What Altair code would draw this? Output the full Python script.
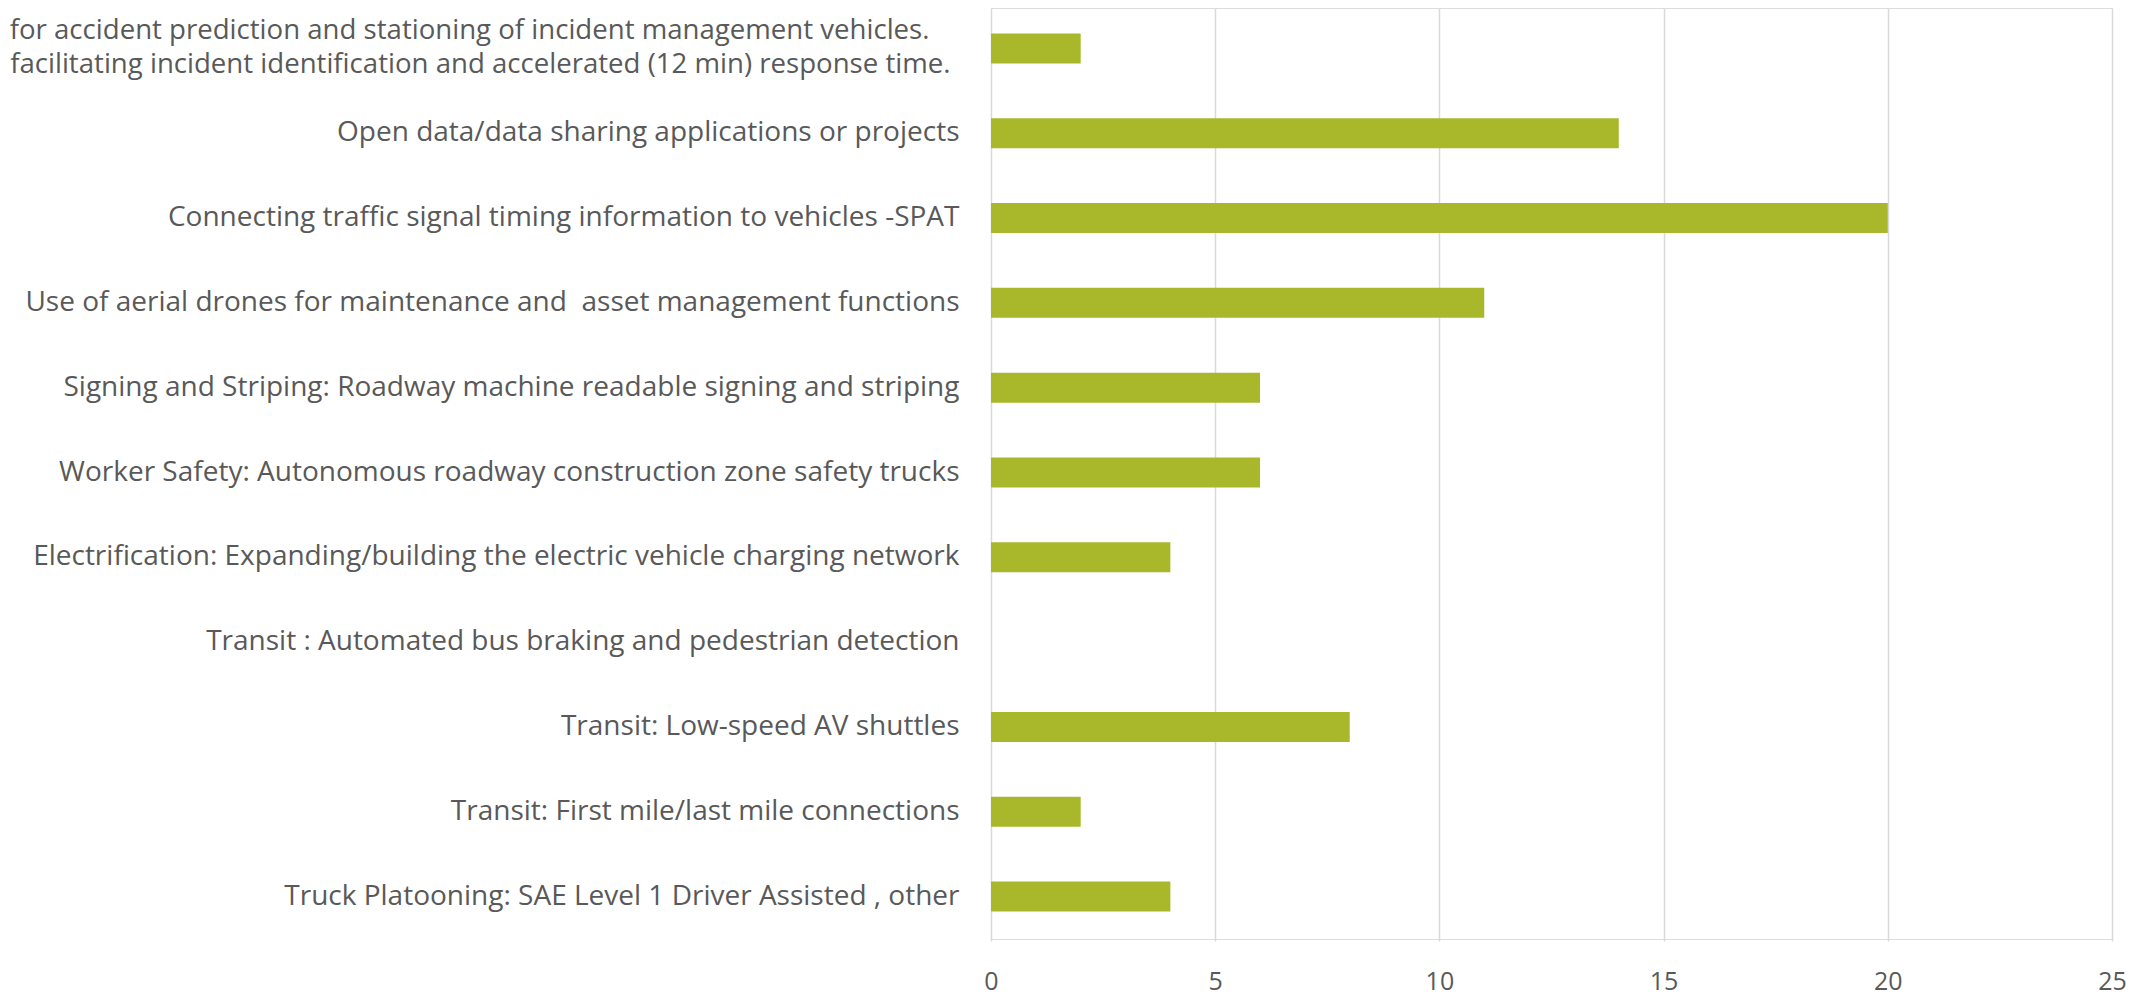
import altair as alt
import pandas as pd

BLANK = "\u2800"
categories = [
    "for accident prediction and stationing of incident management vehicles." + BLANK
    + "|facilitating incident identification and accelerated (12 min) response time.",
    "Open data/data sharing applications or projects",
    "Connecting traffic signal timing information to vehicles -SPAT",
    "Use of aerial drones for maintenance and\u00a0 asset management functions",
    "Signing and Striping: Roadway machine readable signing and striping",
    "Worker Safety: Autonomous roadway construction zone safety trucks",
    "Electrification: Expanding/building the electric vehicle charging network",
    "Transit : Automated bus braking and pedestrian detection",
    "Transit: Low-speed AV shuttles",
    "Transit: First mile/last mile connections",
    "Truck Platooning: SAE Level 1 Driver Assisted , other",
]
values = [2, 14, 20, 11, 6, 6, 4, 0, 8, 2, 4]
x_ticks = [0, 5, 10, 15, 20, 25]

df = pd.DataFrame({"category": categories, "value": values})

FONT = "Open Sans"
TEXT = "#595959"
MULTI = "indexof(datum.value, '|') >= 0"

chart = (
    alt.Chart(df)
    .mark_bar(size=30, color="#a9b82a")
    .encode(
        x=alt.X(
            "value:Q",
            scale=alt.Scale(domain=[0, 25], nice=False),
            axis=alt.Axis(
                values=x_ticks,
                title=None,
                domain=False,
                ticks=False,
                tickSize=0,
                grid=True,
                gridColor="#d9d9d9",
                gridWidth=1.5,
                labelFont=FONT,
                labelFontSize=25,
                labelColor=TEXT,
                labelPadding=30,
                labelFlush=False,
            ),
        ),
        y=alt.Y(
            "category:N",
            sort=categories,
            scale=alt.Scale(range=[-2, 931], paddingInner=0, paddingOuter=0),
            axis=alt.Axis(
                title=None,
                domain=False,
                ticks=False,
                tickSize=0,
                grid=False,
                labelFont=FONT,
                labelFontSize=alt.condition(MULTI, alt.value(27.6), alt.value(28)),
                labelColor=TEXT,
                labelPadding=alt.condition(MULTI, alt.value(41), alt.value(32)),
                labelLimit=3000,
                labelLineHeight=34,
                labelOffset=alt.condition(MULTI, alt.value(-17), alt.value(0)),
                labelExpr="split(datum.label, '|')",
            ),
        ),
    )
    .properties(
        width=1121,
        height=931,
        autosize=alt.AutoSizeParams(type="none"),
        padding={"left": 983, "top": 0, "right": 28, "bottom": 60},
    )
    .configure_view(stroke=None)
    .configure(background="white")
)

chart.save("out.html", embed_options={"renderer": "svg", "actions": False})
